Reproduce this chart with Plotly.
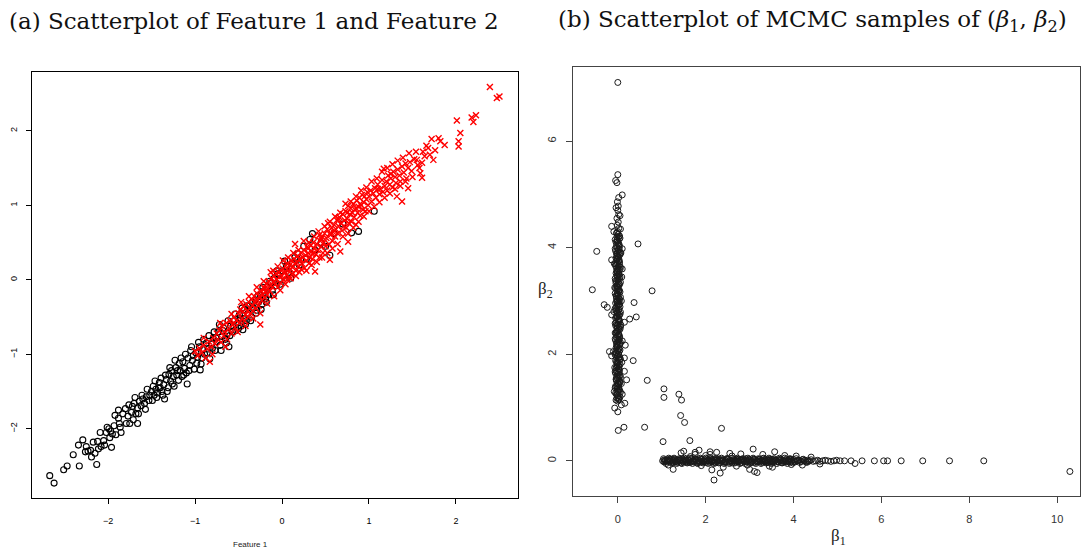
import plotly.graph_objects as go

# ---------------- Panel (a): Feature 1 vs Feature 2 ----------------
black_pts = [
    (-2.67,-2.63),(-2.62,-2.73),(-2.51,-2.55),(-2.47,-2.50),(-2.33,-2.50),(-2.34,-2.22),
    (-2.25,-2.24),(-2.23,-2.30),(-2.26,-2.31),(-2.20,-2.29),(-2.17,-2.18),(-2.12,-2.17),
    (-2.15,-2.33),(-2.11,-2.27),(-2.08,-2.24),(-2.13,-2.48),(-2.05,-2.16),(-2.02,-2.05),
    (-1.99,-2.00),(-2.01,-1.98),(-1.97,-2.03),(-1.95,-2.07),(-1.93,-1.96),(-1.96,-2.25),
    (-1.91,-2.08),(-1.87,-1.93),(-1.85,-2.05),(-1.88,-1.75),(-1.88,-1.86),(-1.80,-1.73),
    (-1.77,-1.83),(-1.73,-1.78),(-1.72,-1.70),(-1.70,-1.66),(-1.68,-1.80),(-1.66,-1.72),
    (-1.64,-1.63),(-1.62,-1.69),(-1.75,-1.93),(-1.66,-1.93),(-1.60,-1.60),(-1.58,-1.66),
    (-1.56,-1.57),(-1.53,-1.62),(-1.50,-1.50),(-1.48,-1.43),(-1.47,-1.55),(-1.45,-1.47),
    (-1.43,-1.52),(-1.41,-1.38),(-1.40,-1.45),(-1.38,-1.50),(-1.36,-1.41),(-1.35,-1.60),
    (-1.33,-1.34),(-1.31,-1.45),(-1.30,-1.27),(-1.28,-1.36),(-1.27,-1.22),(-1.25,-1.30),
    (-1.24,-1.43),(-1.22,-1.18),(-1.21,-1.28),(-1.19,-1.35),(-1.18,-1.12),(-1.17,-1.22),
    (-1.15,-1.30),(-1.14,-1.10),(-1.12,-1.19),(-1.10,-1.25),(-1.09,-1.40),(-1.08,-1.05),
    (-1.06,-1.15),(-1.05,-0.95),(-1.03,-1.08),(-1.01,-1.20),(-0.99,-0.98),(-0.97,-1.04),
    (-0.95,-0.90),(-0.93,-1.13),(-0.94,-1.21),(-0.91,-0.94),(-0.89,-1.00),(-0.87,-0.85),
    (-0.85,-0.93),(-0.83,-1.06),(-0.81,-0.86),(-0.79,-0.79),(-0.77,-0.95),(-0.75,-0.83),
    (-0.73,-0.70),(-0.71,-0.88),(-0.69,-0.76),(-0.67,-0.65),(-0.65,-0.80),(-0.63,-0.72),
    (-0.61,-0.90),(-0.59,-0.62),(-0.57,-0.70),(-0.55,-0.55),(-0.53,-0.68),(-0.51,-0.58),
    (-0.49,-0.47),(-0.47,-0.62),(-0.45,-0.67),(-0.44,-0.52),(-0.43,-0.40),(-0.41,-0.55),
    (-0.39,-0.45),(-0.37,-0.35),(-0.35,-0.50),(-0.33,-0.38),(-0.31,-0.27),(-0.29,-0.41),
    (-0.27,-0.30),(-0.25,-0.20),(-0.23,-0.33),(-0.21,-0.15),(-0.19,-0.25),(-0.17,-0.10),
    (-0.15,-0.20),(-0.13,-0.05),(-0.11,-0.14),(-0.09,0.02),(-0.07,-0.08),(-0.05,0.08),
    (-0.03,0.00),(0.00,0.12),(0.02,0.05),(0.05,0.18),(0.08,0.10),(0.12,0.22),(0.15,0.30),
    (0.20,0.20),(0.25,0.45),(0.32,0.54),(0.38,0.40),(0.45,0.50),(0.55,0.33),(0.60,0.62),
    (0.80,0.63),(0.88,0.65),(1.06,0.92),
    (-2.40,-2.35),(-2.29,-2.15),(-2.19,-2.38),(-2.09,-2.05),(-2.04,-2.22),(-1.98,-2.12),
    (-1.92,-1.82),(-1.86,-1.98),(-1.83,-1.80),(-1.79,-1.93),(-1.76,-1.68),(-1.71,-1.88),
    (-1.69,-1.58),(-1.65,-1.80),(-1.61,-1.55),(-1.57,-1.74),(-1.55,-1.47),(-1.52,-1.55),
    (-1.49,-1.62),(-1.46,-1.36),(-1.44,-1.58),(-1.42,-1.45),(-1.39,-1.32),(-1.37,-1.55),
    (-1.34,-1.28),(-1.32,-1.50),(-1.29,-1.18),(-1.26,-1.40),(-1.23,-1.08),(-1.20,-1.22),
    (-1.16,-1.05),(-1.13,-1.28),(-1.11,-1.00),(-1.07,-1.22),(-1.04,-0.90),(-1.02,-1.02),
    (-0.98,-1.12),(-0.96,-0.84),(-0.92,-1.05),(-0.90,-0.80),(-0.86,-0.98),(-0.84,-0.75),
    (-0.80,-0.92),(-0.78,-0.70),(-0.76,-0.78),(-0.72,-0.60),(-0.70,-0.95),(-0.68,-0.68),
    (-0.64,-0.85),(-0.62,-0.55),(-0.60,-0.75),(-0.56,-0.62),(-0.54,-0.46),(-0.50,-0.65),
    (-0.48,-0.52),(-0.46,-0.38),(-0.42,-0.60),(-0.40,-0.35),(-0.36,-0.55),(-0.34,-0.30),
    (-0.30,-0.45),(-0.28,-0.22),(-0.24,-0.40),(-0.22,-0.10),(-0.18,-0.30),(-0.14,-0.02),
    (-0.10,-0.20),(-0.06,0.12),(-0.02,-0.06),(0.03,0.25),(0.10,0.02),(0.18,0.35),
    (0.28,0.28),(0.35,0.62),(0.50,0.45),(0.70,0.75),
]

red_pts = [
    (-1.00,-0.96),(-0.97,-1.02),(-0.95,-0.92),(-0.92,-0.98),(-0.90,-0.88),(-0.88,-1.05),
    (-0.86,-0.93),(-0.84,-0.83),(-0.83,-1.10),(-0.81,-0.90),(-0.79,-0.78),(-0.77,-0.86),
    (-0.75,-0.72),(-0.74,-0.80),(-0.72,-0.68),(-0.70,-0.84),(-0.69,-0.62),(-0.67,-0.75),
    (-0.66,-0.70),(-0.64,-0.58),(-0.63,-0.80),(-0.61,-0.66),(-0.60,-0.55),(-0.58,-0.72),
    (-0.57,-0.60),(-0.55,-0.50),(-0.54,-0.64),(-0.52,-0.55),
    (-0.50,-0.45),(-0.49,-0.58),(-0.48,-0.40),(-0.46,-0.52),(-0.45,-0.43),(-0.44,-0.36),
    (-0.43,-0.55),(-0.42,-0.47),(-0.41,-0.33),(-0.40,-0.42),(-0.39,-0.50),(-0.38,-0.30),
    (-0.37,-0.38),(-0.36,-0.45),(-0.35,-0.26),(-0.34,-0.35),(-0.33,-0.42),(-0.32,-0.22),
    (-0.31,-0.30),(-0.30,-0.38),(-0.29,-0.18),(-0.28,-0.27),(-0.27,-0.35),(-0.26,-0.22),
    (-0.25,-0.60),(-0.24,-0.15),(-0.23,-0.28),(-0.22,-0.20),(-0.21,-0.10),(-0.20,-0.24),
    (-0.19,-0.16),(-0.18,-0.05),(-0.17,-0.20),(-0.16,-0.12),(-0.15,-0.02),(-0.14,-0.15),
    (-0.13,-0.08),(-0.12,0.02),(-0.11,-0.10),(-0.10,-0.03),(-0.09,0.05),(-0.08,-0.06),
    (-0.07,0.08),(-0.06,0.00),(-0.05,-0.10),(-0.04,0.10),(-0.03,0.04),(-0.02,-0.04),
    (-0.01,0.12),
    (0.00,0.05),(0.01,0.15),(0.02,0.00),(0.03,0.10),(0.04,0.18),(0.05,0.06),(0.06,0.22),
    (0.07,0.12),(0.08,0.03),(0.09,0.20),(0.10,0.14),(0.11,0.26),(0.12,0.08),(0.13,0.18),
    (0.14,0.28),(0.15,0.48),(0.16,0.12),(0.17,0.24),(0.18,0.32),(0.19,0.18),(0.20,0.10),
    (0.21,0.28),(0.22,0.36),(0.23,0.22),(0.24,0.30),(0.25,0.40),(0.26,0.16),(0.27,0.33),
    (0.28,0.26),(0.29,0.44),(0.30,0.36),(0.31,0.22),(0.32,0.30),(0.33,0.46),(0.34,0.38),
    (0.35,0.28),(0.36,0.50),(0.37,0.42),(0.38,0.11),(0.39,0.34),(0.40,0.48),(0.41,0.40),
    (0.42,0.65),(0.43,0.30),(0.44,0.52),(0.45,0.44),(0.46,0.58),(0.47,0.36),(0.48,0.50),
    (0.49,0.62),
    (0.50,0.45),(0.51,0.56),(0.52,0.68),(0.53,0.76),(0.54,0.48),(0.55,0.27),(0.56,0.60),
    (0.57,0.70),(0.58,0.52),(0.59,0.64),(0.60,0.74),(0.61,0.58),(0.62,0.68),(0.63,0.80),
    (0.64,0.62),(0.65,0.72),(0.66,0.84),(0.67,0.38),(0.68,0.76),(0.69,0.66),(0.70,0.88),
    (0.71,0.72),(0.72,0.80),(0.73,0.92),(0.74,0.70),(0.75,0.82),(0.76,0.99),(0.76,0.51),
    (0.77,0.76),(0.78,0.88),(0.79,0.96),(0.80,0.78),(0.81,0.90),(0.82,1.02),(0.83,0.84),
    (0.84,0.94),(0.85,0.74),(0.86,1.06),(0.87,0.90),(0.88,0.98),(0.89,1.10),(0.90,0.86),
    (0.91,1.00),(0.92,1.14),(0.93,0.94),(0.94,1.04),(0.95,1.12),(0.96,0.92),(0.97,1.08),
    (0.98,1.18),(0.99,1.00),
    (1.00,1.12),(1.02,1.20),(1.03,1.05),(1.05,1.16),(1.07,1.23),(1.08,1.10),(1.10,1.28),
    (1.12,1.15),(1.13,1.22),(1.15,1.34),(1.16,1.18),(1.17,1.49),(1.18,1.26),(1.20,1.32),
    (1.21,1.20),(1.22,1.40),(1.24,1.28),(1.25,1.36),(1.27,1.24),(1.28,1.45),(1.30,1.38),
    (1.31,1.30),(1.32,1.12),(1.33,1.48),(1.35,1.40),(1.36,1.32),(1.38,1.05),(1.38,1.52),
    (1.40,1.44),(1.42,1.56),(1.43,1.36),(1.45,1.23),(1.45,1.50),(1.47,1.58),(1.49,1.46),
    (1.52,1.62),(1.55,1.61),(1.56,1.54),(1.59,1.43),(1.61,1.37),(1.61,1.57),(1.62,1.72),
    (1.64,1.66),(1.68,1.77),(1.70,1.68),(1.72,1.89),(1.74,1.61),(1.80,1.90),(1.82,1.86),
    (1.87,1.81),(2.01,2.14),(2.03,1.86),(2.03,1.79),(2.05,1.97),(2.18,2.18),(2.20,2.12),
    (2.23,2.21),(2.39,2.59),(2.47,2.44),(2.50,2.46),
    (-0.90,-0.78),(-0.80,-1.00),(-0.71,-0.58),(-0.65,-0.90),(-0.58,-0.46),(-0.51,-0.70),
    (-0.47,-0.30),(-0.42,-0.62),(-0.38,-0.22),(-0.33,-0.52),(-0.29,-0.10),(-0.25,-0.45),
    (-0.21,-0.02),(-0.17,-0.32),(-0.13,0.10),(-0.09,-0.22),(-0.05,0.18),(-0.02,-0.14),
    (0.01,0.26),(0.04,-0.06),(0.07,0.30),(0.10,0.02),(0.13,0.36),(0.16,0.05),(0.19,0.40),
    (0.22,0.14),(0.25,0.52),(0.28,0.12),(0.31,0.50),(0.34,0.20),(0.37,0.58),(0.40,0.24),
    (0.43,0.60),(0.46,0.30),(0.49,0.72),(0.52,0.36),(0.55,0.78),(0.58,0.42),(0.61,0.85),
    (0.64,0.48),(0.67,0.90),(0.70,0.58),(0.73,1.02),(0.76,0.62),(0.79,1.05),(0.82,0.70),
    (0.85,1.12),(0.88,0.78),(0.91,1.20),(0.94,0.85),(0.97,1.24),(1.00,0.92),(1.03,1.32),
    (1.06,0.98),(1.09,1.36),(1.12,1.04),(1.15,1.45),(1.18,1.10),(1.21,1.50),(1.24,1.16),
    (1.27,1.55),(1.30,1.22),(1.33,1.60),(1.36,1.26),(1.39,1.64),(1.42,1.32),(1.46,1.70),
    (1.50,1.38),(1.54,1.72),(1.58,1.50),(1.66,1.80),(1.76,1.74),(0.06,0.00),(0.20,0.28),
    (0.30,0.42),(0.45,0.55),(0.60,0.66),(0.75,0.90),(0.90,1.02),(1.10,1.22),(-0.10,0.12),
    (-0.30,-0.28),(0.15,0.22),(0.35,0.35),(0.65,0.82),(0.85,0.96),(1.25,1.42),(-0.55,-0.58),
    (-0.20,-0.12),(0.55,0.62),
]

feat1_black = [p[0] for p in black_pts]
feat2_black = [p[1] for p in black_pts]
feat1_red = [p[0] for p in red_pts]
feat2_red = [p[1] for p in red_pts]
a_xticks = [-2, -1, 0, 1, 2]
a_yticks = [-2, -1, 0, 1, 2]

# ---------------- Panel (b): MCMC samples of (beta1, beta2) ----------------
mcmc_pts = [
    # vertical cluster near beta1 = 0
    (0.00,1.12),(0.02,1.15),(-0.02,1.18),(0.01,1.22),(-0.03,1.25),(0.03,1.28),(0.00,1.31),
    (-0.01,1.35),(0.02,1.38),(-0.02,1.41),(0.01,1.45),(0.04,1.48),(-0.03,1.52),(0.00,1.55),
    (0.02,1.58),(-0.01,1.62),(0.03,1.66),(-0.04,1.69),(0.01,1.72),(-0.02,1.76),(0.02,1.79),
    (0.00,1.83),(-0.03,1.86),(0.04,1.90),(0.01,1.93),(-0.01,1.97),(0.02,2.00),(-0.04,2.03),
    (0.00,2.07),(0.03,2.10),(-0.02,2.14),(0.01,2.17),(-0.03,2.21),(0.02,2.24),(0.00,2.28),
    (0.04,2.31),(-0.01,2.35),(0.02,2.38),(-0.03,2.42),(0.01,2.45),(-0.02,2.49),(0.03,2.52),
    (0.00,2.56),(-0.04,2.59),(0.02,2.63),(0.01,2.66),(-0.02,2.70),(0.03,2.73),(0.00,2.77),
    (-0.01,2.80),(0.02,2.84),(-0.03,2.87),(0.01,2.91),(0.04,2.94),(-0.02,2.98),(0.00,3.01),
    (0.02,3.05),(-0.03,3.08),(0.01,3.12),(-0.01,3.15),(0.03,3.19),(0.00,3.22),(-0.02,3.26),
    (0.02,3.29),(-0.04,3.33),(0.01,3.36),(0.00,3.40),(0.03,3.43),(-0.02,3.47),(0.01,3.50),
    (-0.01,3.54),(0.02,3.57),(-0.03,3.61),(0.00,3.64),(0.04,3.68),(-0.01,3.71),(0.02,3.75),
    (-0.02,3.78),(0.01,3.82),(0.00,3.85),(-0.03,3.89),(0.03,3.92),(0.01,3.96),(-0.02,4.00),
    (0.02,4.04),(0.00,4.08),(-0.01,4.12),(0.03,4.16),(-0.02,4.20),(0.01,4.25),(0.00,4.30),
    (0.02,4.36),(-0.01,4.42),(0.01,4.48),(-0.02,4.55),(0.02,4.62),(0.00,4.70),(0.01,4.78),
    (-0.01,4.86),(0.02,4.94),
    (-0.04,1.14),(0.05,1.20),(-0.05,1.27),(0.04,1.33),(-0.05,1.40),(0.05,1.47),(-0.04,1.53),
    (0.05,1.60),(-0.05,1.64),(0.04,1.70),(-0.04,1.74),(0.05,1.81),(-0.05,1.88),(0.04,1.95),
    (-0.05,2.02),(0.05,2.08),(-0.04,2.12),(0.05,2.19),(-0.05,2.26),(0.04,2.33),(-0.04,2.40),
    (0.05,2.47),(-0.05,2.54),(0.04,2.61),(-0.05,2.68),(0.05,2.75),(-0.04,2.82),(0.05,2.89),
    (-0.05,2.96),(0.04,3.03),(-0.04,3.10),(0.05,3.17),(-0.05,3.24),(0.04,3.31),(-0.05,3.38),
    (0.05,3.45),(-0.04,3.52),(0.05,3.59),(-0.05,3.66),(0.04,3.73),(-0.04,3.80),(0.05,3.87),
    (-0.05,3.94),(0.04,4.02),(-0.04,4.10),(0.05,4.18),(-0.03,4.27),
    (0.03,1.16),(-0.02,1.24),(0.06,1.29),(-0.06,1.37),(0.02,1.43),(-0.03,1.50),(0.06,1.57),
    (-0.06,1.67),(0.03,1.77),(-0.02,1.84),(0.06,1.91),(-0.06,1.99),(0.03,2.05),(-0.02,2.16),
    (0.06,2.22),(-0.06,2.29),(0.03,2.36),(-0.02,2.44),(0.06,2.51),(-0.06,2.58),(0.03,2.65),
    (-0.02,2.72),(0.06,2.79),(-0.06,2.86),(0.03,2.93),(-0.02,3.00),(0.06,3.07),(-0.06,3.14),
    (0.03,3.21),(-0.02,3.28),(0.06,3.35),(-0.06,3.42),(0.03,3.49),(-0.02,3.56),(0.06,3.63),
    (-0.06,3.70),(0.03,3.77),(-0.02,3.84),(0.06,3.91),(-0.06,3.98),(0.03,4.06),(-0.02,4.14),
    (0.04,4.22),
    (0.01,1.19),(-0.01,1.26),(0.02,1.34),(-0.02,1.39),(0.00,1.46),(0.03,1.51),(-0.03,1.56),
    (0.01,1.63),(-0.01,1.68),(0.02,1.73),(-0.02,1.80),(0.00,1.85),(0.03,1.89),(-0.03,1.94),
    (0.01,2.01),(-0.01,2.06),(0.02,2.11),(-0.02,2.18),(0.00,2.23),(0.03,2.27),(-0.03,2.32),
    (0.01,2.37),(-0.01,2.43),(0.02,2.48),(-0.02,2.53),(0.00,2.60),(0.03,2.64),(-0.03,2.69),
    (0.01,2.74),(-0.01,2.78),(0.02,2.83),(-0.02,2.90),(0.00,2.95),(0.03,2.99),(-0.03,3.04),
    (0.01,3.09),(-0.01,3.13),(0.02,3.18),(-0.02,3.23),(0.00,3.27),(0.03,3.32),(-0.03,3.37),
    (0.01,3.41),(-0.01,3.46),(0.02,3.51),(-0.02,3.55),(0.00,3.60),(0.03,3.65),(-0.03,3.69),
    (0.01,3.74),(-0.01,3.79),(0.02,3.83),(-0.02,3.88),(0.00,3.93),(0.03,3.97),(-0.03,4.03),
    (0.01,4.09),(-0.01,4.15),(0.02,4.21),(-0.02,4.28),
    (-0.08,1.30),(0.08,1.45),(-0.07,1.75),(0.09,1.85),(-0.10,2.05),(0.10,2.25),(-0.06,2.40),
    (0.07,2.55),(-0.09,2.80),(0.08,3.00),(-0.07,3.25),(0.09,3.45),(-0.08,3.70),(0.07,3.90),
    (-0.06,4.15),(0.06,4.35),(0.05,4.60),(-0.04,4.75),
    (0.00,7.10),(0.00,5.37),(-0.05,5.26),(-0.02,5.22),(0.10,4.99),(-0.14,4.40),(-0.09,4.30),
    (0.46,4.07),(-0.48,3.93),(-0.14,3.77),(0.10,3.98),(0.10,3.60),(-0.58,3.21),(0.78,3.19),
    (0.37,2.97),(-0.31,2.93),(-0.24,2.88),(-0.14,2.74),(0.27,2.66),(0.42,2.70),(0.15,2.60),
    (-0.19,2.05),(-0.14,1.97),(0.17,2.17),(0.35,1.88),(0.15,1.93),(0.20,1.52),(0.15,1.68),
    (0.67,1.51),(-0.07,0.99),(0.00,0.92),(0.08,1.05),(0.16,1.08),(0.10,1.25),(0.01,0.57),
    (0.14,0.63),(0.61,0.63),(1.05,1.35),(1.05,1.19),(1.39,1.25),(1.45,1.14),(1.43,0.85),
    (1.52,0.72),(1.03,0.36),(1.64,0.38),(2.36,0.61),
    # horizontal cluster near beta2 = 0
    (1.02,0.00),(1.05,-0.02),(1.08,0.01),(1.11,0.00),(1.14,0.02),(1.17,-0.01),(1.20,0.00),
    (1.23,0.03),(1.26,-0.03),(1.29,0.01),(1.32,0.00),(1.35,-0.02),(1.38,0.02),(1.41,0.00),
    (1.44,-0.04),(1.47,0.03),(1.50,0.00),(1.53,0.01),(1.56,-0.02),(1.59,0.02),(1.62,0.00),
    (1.65,-0.03),(1.68,0.04),(1.71,0.00),(1.74,-0.01),(1.77,0.02),(1.80,-0.04),(1.83,0.01),
    (1.86,0.00),(1.89,0.03),(1.92,-0.02),(1.95,0.00),(1.98,0.02),(2.01,-0.03),(2.04,0.01),
    (2.07,0.00),(2.10,0.04),(2.13,-0.02),(2.16,0.00),(2.19,0.02),(2.22,-0.04),(2.25,0.01),
    (2.28,0.00),(2.31,0.03),(2.34,-0.01),(2.37,0.00),(2.40,0.02),(2.43,-0.03),(2.46,0.00),
    (2.49,0.04),(2.52,-0.02),(2.55,0.01),(2.58,0.00),(2.61,-0.04),(2.64,0.02),(2.67,0.00),
    (2.70,0.03),(2.73,-0.01),(2.76,0.00),(2.79,0.02),(2.82,-0.03),(2.85,0.01),(2.88,0.00),
    (2.91,0.04),(2.94,-0.02),(2.97,0.00),(3.00,0.02),(3.03,-0.01),(3.06,0.00),(3.09,0.03),
    (3.12,-0.03),(3.15,0.01),(3.18,0.00),(3.21,0.02),(3.24,-0.02),(3.27,0.00),(3.30,0.04),
    (3.33,-0.01),(3.36,0.00),(3.39,0.02),(3.42,-0.03),(3.45,0.01),(3.48,0.00),(3.51,0.03),
    (3.54,-0.02),(3.57,0.00),(3.60,0.01),(3.63,-0.01),(3.66,0.02),(3.69,0.00),(3.72,-0.03),
    (3.75,0.01),(3.78,0.00),(3.81,0.02),(3.84,-0.02),(3.87,0.00),(3.90,0.03),(3.93,-0.01),
    (3.96,0.00),(4.00,0.02),(4.04,-0.02),(4.08,0.00),(4.12,0.01),(4.16,-0.01),(4.20,0.02),
    (4.24,0.00),(4.28,-0.02),(4.32,0.01),(4.36,0.00),(4.40,0.02),(4.45,-0.01),(4.50,0.00),
    (4.55,0.01),(4.60,-0.01),(4.66,0.00),(4.72,0.01),(4.78,0.00),(4.85,-0.01),(4.92,0.00),
    (4.98,0.01),
    (1.04,0.04),(1.10,-0.05),(1.16,0.05),(1.22,-0.04),(1.28,0.05),(1.34,-0.05),(1.40,0.04),
    (1.46,-0.05),(1.52,0.05),(1.58,-0.04),(1.64,0.05),(1.70,-0.05),(1.76,0.04),(1.82,-0.05),
    (1.88,0.05),(1.94,-0.04),(2.00,0.05),(2.06,-0.05),(2.12,0.04),(2.18,-0.05),(2.24,0.05),
    (2.30,-0.04),(2.36,0.05),(2.42,-0.05),(2.48,0.04),(2.54,-0.05),(2.60,0.05),(2.66,-0.04),
    (2.72,0.05),(2.78,-0.05),(2.84,0.04),(2.90,-0.05),(2.96,0.05),(3.02,-0.04),(3.08,0.05),
    (3.14,-0.05),(3.20,0.04),(3.26,-0.05),(3.32,0.05),(3.38,-0.04),(3.44,0.05),(3.50,-0.05),
    (3.56,0.04),(3.62,-0.05),(3.68,0.05),(3.74,-0.04),(3.80,0.05),(3.86,-0.05),(3.92,0.04),
    (3.98,-0.04),(4.06,0.04),(4.14,-0.03),(4.22,0.03),(4.30,-0.03),
    (1.07,-0.01),(1.13,0.01),(1.19,0.02),(1.25,0.00),(1.31,-0.02),(1.37,0.01),(1.43,0.02),
    (1.49,-0.01),(1.55,0.00),(1.61,0.02),(1.67,-0.02),(1.73,0.01),(1.79,0.00),(1.85,-0.02),
    (1.91,0.02),(1.97,-0.01),(2.03,0.00),(2.09,0.01),(2.15,-0.02),(2.21,0.02),(2.27,-0.01),
    (2.33,0.00),(2.39,0.01),(2.45,-0.02),(2.51,0.02),(2.57,-0.01),(2.63,0.00),(2.69,0.01),
    (2.75,-0.02),(2.81,0.02),(2.87,-0.01),(2.93,0.00),(2.99,0.01),(3.05,-0.02),(3.11,0.02),
    (3.17,-0.01),(3.23,0.00),(3.29,0.01),(3.35,-0.02),(3.41,0.02),(3.47,-0.01),(3.53,0.00),
    (3.59,0.01),(3.65,-0.02),(3.71,0.02),(3.77,-0.01),(3.83,0.00),(3.89,0.01),(3.95,-0.02),
    (1.06,0.02),(1.12,-0.02),(1.18,0.03),(1.24,-0.02),(1.30,0.03),(1.36,-0.03),(1.42,0.02),
    (1.48,-0.02),(1.54,0.03),(1.60,-0.03),(1.66,0.02),(1.72,-0.02),(1.78,0.03),(1.84,-0.03),
    (1.90,0.02),(1.96,-0.02),(2.02,0.03),(2.08,-0.03),(2.14,0.02),(2.20,-0.02),(2.26,0.03),
    (2.32,-0.03),(2.38,0.02),(2.44,-0.02),(2.50,0.03),(2.56,-0.03),(2.62,0.02),(2.68,-0.02),
    (2.74,0.03),(2.80,-0.03),(2.86,0.02),(2.92,-0.02),(2.98,0.03),(3.04,-0.03),(3.10,0.02),
    (3.16,-0.02),(3.22,0.03),(3.28,-0.03),(3.34,0.02),(3.40,-0.02),(3.46,0.03),(3.52,-0.03),
    (3.58,0.02),(3.64,-0.02),(3.70,0.03),(3.76,-0.03),(3.82,0.02),(3.88,-0.02),(3.94,0.03),
    (4.02,-0.01),(4.10,0.01),(4.18,-0.01),(4.26,0.01),(4.34,-0.01),
    (1.26,-0.16),(1.44,0.15),(1.50,0.18),(1.76,0.12),(1.76,0.16),(2.10,0.12),(2.10,0.17),
    (2.14,-0.17),(2.19,-0.36),(2.33,-0.23),(2.25,0.16),(2.40,-0.12),(2.55,0.14),(2.70,-0.10),
    (2.80,0.13),(3.00,-0.16),(3.08,0.22),(3.11,-0.20),(3.17,-0.22),(3.30,0.12),(3.45,-0.10),
    (3.52,-0.12),(3.57,0.17),(3.80,0.10),(4.06,0.09),(4.20,-0.08),(4.40,0.07),(4.60,-0.06),
    (1.65,0.08),(1.90,-0.09),(2.00,0.10),(2.60,0.09),(2.95,-0.08),(3.95,-0.07),(1.15,-0.08),
    (1.85,0.20),
    (5.06,0.00),(5.16,0.00),(5.31,0.00),(5.40,-0.05),(5.56,0.00),(5.84,0.00),(6.05,0.00),
    (6.14,0.00),(6.45,0.00),(6.94,0.00),(7.55,0.00),(8.33,0.00),(10.29,-0.20),
]
beta1 = [p[0] for p in mcmc_pts]
beta2 = [p[1] for p in mcmc_pts]
b_xticks = [0, 2, 4, 6, 8, 10]
b_yticks = [0, 2, 4, 6]

W, H = 1081, 550

def px(x):
    return x / W

def py(y):
    return 1 - y / H

fig = go.Figure()
fig.add_trace(go.Scatter(
    x=feat1_black, y=feat2_black, mode="markers", xaxis="x", yaxis="y",
    marker=dict(symbol="circle-open", size=6, color="black", line=dict(width=1.1, color="black")),
    showlegend=False, hoverinfo="skip", cliponaxis=False))
fig.add_trace(go.Scatter(
    x=feat1_red, y=feat2_red, mode="markers", xaxis="x", yaxis="y",
    marker=dict(symbol="x-thin", size=6, color="red", line=dict(width=1.4, color="red")),
    showlegend=False, hoverinfo="skip", cliponaxis=False))
fig.add_trace(go.Scatter(
    x=beta1, y=beta2, mode="markers", xaxis="x2", yaxis="y2",
    marker=dict(symbol="circle-open", size=6, color="#1a1a1a", line=dict(width=1.0, color="#1a1a1a")),
    showlegend=False, hoverinfo="skip", cliponaxis=False))

tickfont_a = dict(family="Liberation Sans, Arial, sans-serif", size=9, color="black")
tickfont_b = dict(family="Liberation Sans, Arial, sans-serif", size=11, color="#333")
title_font = dict(family="DejaVu Serif, serif", size=23, color="#111")

common = dict(ticks="outside", tickwidth=1, showgrid=False, zeroline=False,
              mirror=True, showline=True, automargin=False)

fig.update_layout(
    width=W, height=H,
    margin=dict(l=0, r=0, t=0, b=0, autoexpand=False),
    paper_bgcolor="white", plot_bgcolor="white",
    xaxis=dict(domain=[px(32), px(518)], range=[-2.874, 2.713], tickvals=a_xticks,
               ticklen=5, tickcolor="black", linecolor="black", linewidth=1.2,
               tickfont=tickfont_a, ticklabelstandoff=9, anchor="y", **common),
    yaxis=dict(domain=[py(498), py(72)], range=[-2.93, 2.79], tickvals=a_yticks,
               ticklen=5, tickcolor="black", linecolor="black", linewidth=1.2,
               tickfont=tickfont_a, tickangle=-90, ticklabelstandoff=5, anchor="x", **common),
    xaxis2=dict(domain=[px(573), px(1080)], range=[-1.02, 10.52], tickvals=b_xticks,
                ticklen=6, tickcolor="#444", linecolor="#444", linewidth=1.2,
                tickfont=tickfont_b, ticklabelstandoff=7, anchor="y2", **common),
    yaxis2=dict(domain=[py(496), py(67)], range=[-0.66, 7.39], tickvals=b_yticks,
                ticklen=6, tickcolor="#444", linecolor="#444", linewidth=1.2,
                tickfont=tickfont_b, tickangle=-90, ticklabelstandoff=6, anchor="x2", **common),
    annotations=[
        dict(text="(a) Scatterplot of Feature 1 and Feature 2", x=px(7), y=py(21),
             xref="paper", yref="paper", xanchor="left", yanchor="middle", showarrow=False,
             font=title_font),
        dict(text="(b) Scatterplot of MCMC samples of (<i>β</i><sub>1</sub>, <i>β</i><sub>2</sub>)",
             x=px(556), y=py(21), xref="paper", yref="paper", xanchor="left", yanchor="middle",
             showarrow=False, font=title_font),
        dict(text="Feature 1", x=px(250), y=py(544), xref="paper", yref="paper",
             xanchor="center", yanchor="middle", showarrow=False,
             font=dict(family="Liberation Sans, Arial, sans-serif", size=8, color="#222")),
        dict(text="β<sub>2</sub>", x=px(545), y=py(290), xref="paper", yref="paper",
             xanchor="center", yanchor="middle", showarrow=False,
             font=dict(family="Liberation Serif, serif", size=17, color="#222")),
        dict(text="β<sub>1</sub>", x=px(838), y=py(524), xref="paper", yref="paper",
             xanchor="center", yanchor="top", showarrow=False,
             font=dict(family="Liberation Serif, serif", size=17, color="#222")),
    ],
)

fig.write_html("out.html", config={"displayModeBar": False},
               post_script="document.body.style.margin='0';document.body.style.padding='0';")
